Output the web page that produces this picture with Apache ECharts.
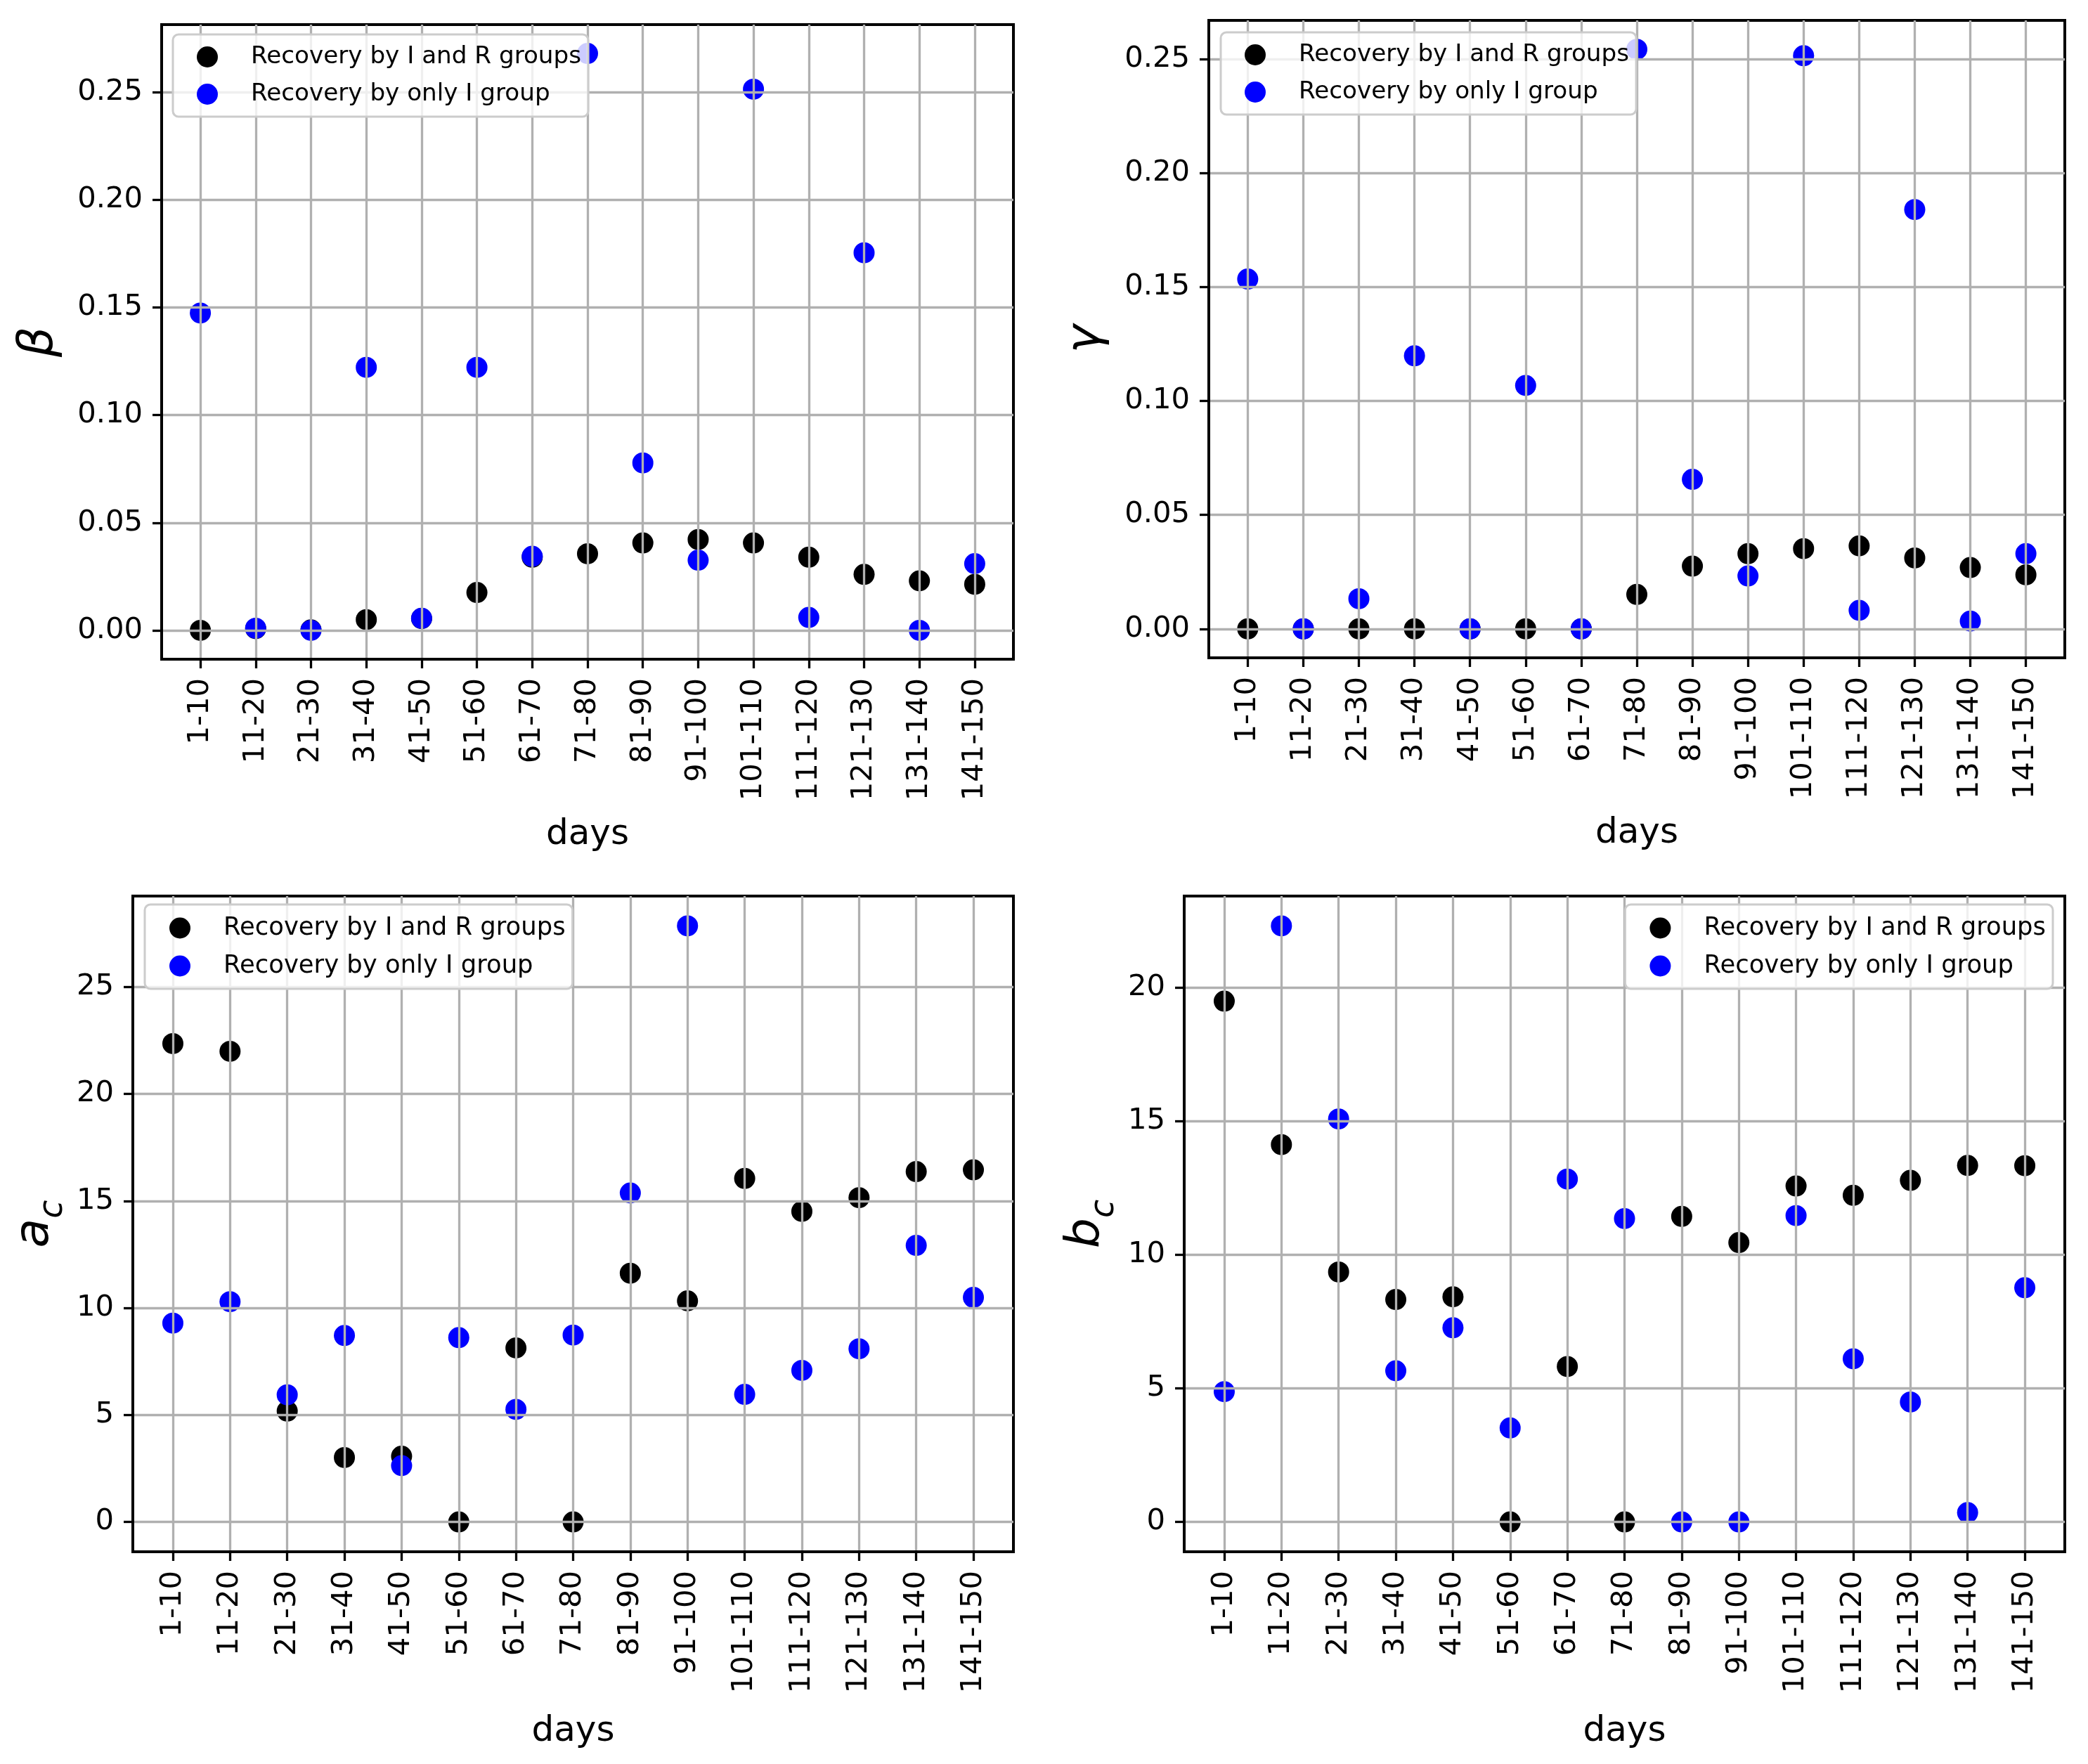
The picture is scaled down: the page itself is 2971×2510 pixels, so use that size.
<!DOCTYPE html>
<html><head><meta charset="utf-8">
<script src="https://cdn.jsdelivr.net/npm/echarts@6/dist/echarts.min.js"></script>
<style>html,body{margin:0;padding:0;background:#fff}#c{width:2971px;height:2510px}</style>
</head><body><div id="c"></div>
<script>
// ---------------- data ----------------
const categories = ['1-10','11-20','21-30','31-40','41-50','51-60','61-70','71-80','81-90','91-100','101-110','111-120','121-130','131-140','141-150'];
const seriesNames = ['Recovery by I and R groups', 'Recovery by only I group'];

const betaIR  = [0, 0.0008, 0.0002, 0.005, 0.0055, 0.0176, 0.034, 0.0356, 0.0406, 0.0422, 0.0406, 0.034, 0.026, 0.023, 0.0214];
const betaI   = [0.1474, 0.001, 0, 0.1222, 0.0056, 0.1222, 0.0344, 0.268, 0.0778, 0.0326, 0.2514, 0.006, 0.1754, 0, 0.031];

const gammaIR = [0, 0, 0, 0, 0, 0, 0, 0.0151, 0.0275, 0.033, 0.0352, 0.0364, 0.0311, 0.0269, 0.0237];
const gammaI  = [0.1535, 0, 0.0132, 0.1198, 0, 0.1068, 0, 0.2543, 0.0656, 0.0232, 0.2515, 0.0081, 0.184, 0.0034, 0.033];

const acIR    = [22.35, 21.99, 5.18, 3.01, 3.07, 0, 8.13, 0, 11.62, 10.33, 16.05, 14.51, 15.15, 16.37, 16.45];
const acI     = [9.29, 10.29, 5.94, 8.71, 2.63, 8.61, 5.26, 8.73, 15.37, 27.85, 5.96, 7.08, 8.09, 12.92, 10.49];

const bcIR    = [19.5, 14.13, 9.36, 8.33, 8.43, 0, 5.82, 0, 11.44, 10.46, 12.58, 12.23, 12.79, 13.35, 13.34];
const bcI     = [4.88, 22.32, 15.09, 5.66, 7.27, 3.52, 12.84, 11.36, 0, 0, 11.47, 6.11, 4.49, 0.35, 8.77];

const yTicksRate = [0, 0.05, 0.10, 0.15, 0.20, 0.25];
const yTicksAc   = [0, 5, 10, 15, 20, 25];
const yTicksBc   = [0, 5, 10, 15, 20];

// ---------------- layout / style ----------------
const FONT = 'DejaVu Sans';
const panels = [
  {ir: betaIR,  i: betaI,  ticks: yTicksRate, dec: 2, name: '{m|β}',
   grid: {left: 230, top: 35, width: 1212, height: 903}, nameGap: 140, xNameGap: 225,
   legend: {left: 246, top: 49, padding: [15, 10, 15, 34], itemGap: 19}, legendFont: 34.2},
  {ir: gammaIR, i: gammaI, ticks: yTicksRate, dec: 2, name: '{m|γ}',
   grid: {left: 1720, top: 29, width: 1218, height: 907}, nameGap: 140, xNameGap: 225,
   legend: {left: 1737, top: 46, padding: [15, 10, 15, 34], itemGap: 19}, legendFont: 34.2},
  {ir: acIR,    i: acI,    ticks: yTicksAc,   dec: 0, name: '{m|a}{s|c}',
   grid: {left: 189, top: 1275, width: 1253, height: 933}, nameGap: 89, xNameGap: 231,
   legend: {left: 206, top: 1287, padding: [16, 10, 15, 35], itemGap: 19}, legendFont: 35.4},
  {ir: bcIR,    i: bcI,    ticks: yTicksBc,   dec: 0, name: '{m|b}{s|c}',
   grid: {left: 1685, top: 1275, width: 1253, height: 933}, nameGap: 89, xNameGap: 231,
   legend: {right: 50, top: 1287, padding: [16, 10, 15, 35], itemGap: 19}, legendFont: 35.4}
];
const colors = ['#000000', '#0000ff'];
const xTicks = categories.map((c, k) => k);

const grids = [], xAxes = [], yAxes = [], series = [], legends = [];
panels.forEach((p, gi) => {
  grids.push(Object.assign({show: true, borderColor: '#000', borderWidth: 4, backgroundColor: 'transparent',
    containLabel: false, outerBoundsMode: 'none'}, p.grid));
  const all = p.ir.concat(p.i);
  const dmin = Math.min(...all), dmax = Math.max(...all);
  const pad = 0.05 * (dmax - dmin);
  const n = categories.length;
  xAxes.push({
    type: 'value', gridIndex: gi, min: -0.05 * (n - 1), max: (n - 1) * 1.05, z: 3,
    axisLine: {show: true, onZero: false, lineStyle: {color: '#000', width: 4}},
    axisTick: {show: true, customValues: xTicks, length: 13, inside: false, lineStyle: {color: '#000', width: 3.3}},
    axisLabel: {show: true, customValues: xTicks, rotate: 90, margin: 27, fontSize: 41.7, fontFamily: FONT, color: '#000',
      formatter: v => categories[Math.round(v)]},
    splitLine: {show: true, lineStyle: {color: '#b0b0b0', width: 3.3}},
    name: 'days', nameLocation: 'middle', nameGap: p.xNameGap, nameMoveOverlap: false,
    nameTextStyle: {fontSize: 50, fontFamily: FONT, color: '#000'}
  });
  yAxes.push({
    type: 'value', gridIndex: gi, min: dmin - pad, max: dmax + pad, z: 3,
    axisLine: {show: true, onZero: false, lineStyle: {color: '#000', width: 4}},
    axisTick: {show: true, customValues: p.ticks, length: 13, inside: false, lineStyle: {color: '#000', width: 3.3}},
    axisLabel: {show: true, customValues: p.ticks, margin: 27, fontSize: 41.7, fontFamily: FONT, color: '#000',
      formatter: v => Number(v).toFixed(p.dec)},
    splitLine: {show: true, lineStyle: {color: '#b0b0b0', width: 3.3}},
    name: p.name, nameLocation: 'middle', nameRotate: 90, nameGap: p.nameGap, nameMoveOverlap: false,
    nameTextStyle: {color: '#000', fontFamily: FONT, fontStyle: 'italic',
      rich: {
        m: {fontSize: 68, fontFamily: FONT, fontStyle: 'italic', color: '#000', verticalAlign: 'bottom', padding: [0, 0, p.dec ? 0 : 16, 0]},
        s: {fontSize: 47.6, fontFamily: FONT, fontStyle: 'italic', color: '#000', verticalAlign: 'bottom'}
      }}
  });
  [p.ir, p.i].forEach((arr, si) => {
    series.push({
      type: 'scatter', name: seriesNames[si], xAxisIndex: gi, yAxisIndex: gi,
      symbol: 'circle', symbolSize: 30, itemStyle: {color: colors[si], opacity: 1},
      data: arr.map((v, k) => [k, v]), z: 2
    });
  });
  legends.push(Object.assign({
    show: true, orient: 'vertical', data: seriesNames, icon: 'circle',
    itemWidth: 60, itemHeight: 30,
    backgroundColor: 'rgba(255,255,255,0.8)', borderColor: '#cccccc', borderWidth: 3, borderRadius: 8,
    selectedMode: false, z: 5,
    textStyle: {fontSize: p.legendFont, fontFamily: FONT, color: '#000', padding: [0, 0, 0, 27]}
  }, p.legend));
});

const chart = echarts.init(document.getElementById('c'), null, {renderer: 'canvas'});
chart.setOption({
  animation: false, backgroundColor: '#ffffff',
  textStyle: {fontFamily: FONT},
  grid: grids, xAxis: xAxes, yAxis: yAxes, series: series, legend: legends
});
</script></body></html>
